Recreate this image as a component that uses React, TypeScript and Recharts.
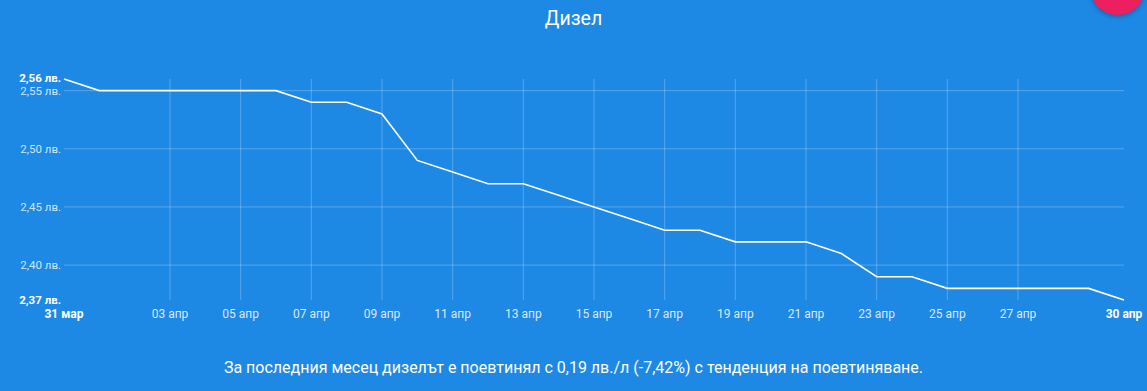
import React from 'react';
import { LineChart, Line, XAxis, YAxis, CartesianGrid, ReferenceLine } from 'recharts';

const dates = [
  '31 мар', '01 апр', '02 апр', '03 апр', '04 апр', '05 апр', '06 апр', '07 апр', '08 апр', '09 апр',
  '10 апр', '11 апр', '12 апр', '13 апр', '14 апр', '15 апр', '16 апр', '17 апр', '18 апр', '19 апр',
  '20 апр', '21 апр', '22 апр', '23 апр', '24 апр', '25 апр', '26 апр', '27 апр', '28 апр', '29 апр',
  '30 апр',
];
const prices = [
  2.56, 2.55, 2.55, 2.55, 2.55, 2.55, 2.55, 2.54, 2.54, 2.53,
  2.49, 2.48, 2.47, 2.47, 2.46, 2.45, 2.44, 2.43, 2.43, 2.42,
  2.42, 2.42, 2.41, 2.39, 2.39, 2.38, 2.38, 2.38, 2.38, 2.38,
  2.37,
];
const xTicks = ['31 мар', '03 апр', '05 апр', '07 апр', '09 апр', '11 апр', '13 апр', '15 апр', '17 апр', '19 апр', '21 апр', '23 апр', '25 апр', '27 апр', '30 апр'];
const xGrid = ['03 апр', '05 апр', '07 апр', '09 апр', '11 апр', '13 апр', '15 апр', '17 апр', '19 апр', '21 апр', '23 апр', '25 апр', '27 апр'];
const yTicks = [2.37, 2.4, 2.45, 2.5, 2.55, 2.56];
const yGrid = [2.4, 2.45, 2.5, 2.55];
const yMin = 2.37;
const yMax = 2.56;
const title = 'Дизел';
const caption = 'За последния месец дизелът е поевтинял с 0,19 лв./л (-7,42%) с тенденция на поевтиняване.';

const data = dates.map((d, i) => ({ date: d, price: prices[i] }));

const FONT = 'Roboto, sans-serif';

const fmt = (v: number) => v.toFixed(2).replace('.', ',') + ' лв.';

const YTick = (props: any) => {
  const { x, y, payload } = props;
  const v = payload.value as number;
  const bold = v === yMin || v === yMax;
  const dy = v === yMax ? 3 : v === 2.55 ? 4.5 : 4;
  return (
    <text x={x} y={y} dy={dy} textAnchor="end" fontFamily={FONT} fontSize={11.5}
      fontWeight={bold ? 700 : 400} fill={bold ? '#ffffff' : 'rgba(255,255,255,0.8)'}>
      {fmt(v)}
    </text>
  );
};

const XTick = (props: any) => {
  const { x, y, payload } = props;
  const v = payload.value as string;
  const bold = v === dates[0] || v === dates[dates.length - 1];
  return (
    <text x={x} y={y} dy={10} textAnchor="middle" fontFamily={FONT} fontSize={12}
      fontWeight={bold ? 700 : 400} fill={bold ? '#ffffff' : 'rgba(255,255,255,0.85)'}>
      {v}
    </text>
  );
};

export default function App() {
  return (
    <div style={{ position: 'fixed', left: 0, top: 0, width: 1147, height: 391, background: '#1e88e5', overflow: 'hidden', fontFamily: FONT }}>
      <div style={{ position: 'absolute', left: 1090, top: -40, width: 55, height: 55, borderRadius: '50%', background: '#ec1f5f', boxShadow: '0 2px 4px rgba(0,0,0,0.25)' }} />
      <div style={{ position: 'absolute', left: 0, top: 7, width: 1147, textAlign: 'center', color: '#fff', fontSize: 19.5, fontWeight: 400 }}>{title}</div>
      <div style={{ position: 'absolute', left: 0, top: 358, width: 1147, textAlign: 'center', color: '#fff', fontSize: 16 }}>{caption}</div>
      <div style={{ position: 'absolute', left: 0, top: 0 }}>
        <LineChart width={1147} height={330} data={data} margin={{ top: 79, right: 23, bottom: 0, left: 0 }}>
          <CartesianGrid vertical={false} horizontalValues={yGrid} stroke="rgba(255,255,255,0.25)" />
          {xGrid.map((d) => (
            <ReferenceLine key={d} x={d} stroke="rgba(255,255,255,0.25)" strokeWidth={1} />
          ))}
          <XAxis dataKey="date" type="category" ticks={xTicks} interval={0} axisLine={false} tickLine={false} tick={<XTick />} height={30} tickMargin={2} />
          <YAxis type="number" domain={[yMin, yMax]} ticks={yTicks} interval={0} axisLine={false} tickLine={false} tickSize={0} tickMargin={3} width={64} tick={<YTick />} />
          <Line type="linear" dataKey="price" stroke="#ffffff" strokeWidth={1.6} dot={false} isAnimationActive={false} />
        </LineChart>
      </div>
    </div>
  );
}
